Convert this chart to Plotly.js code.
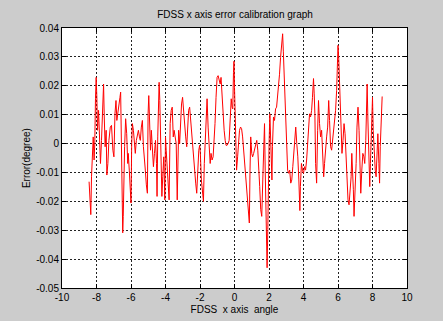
<!DOCTYPE html>
<html>
<head>
<meta charset="utf-8">
<script src="https://cdn.plot.ly/plotly-3.0.1.min.js"></script>
<style>
html,body{margin:0;padding:0;background:#cccccc;}
#chart{width:443px;height:321px;}
</style>
</head>
<body>
<div id="chart"></div>
<script>
const angle = [
-8.43,-8.37,-8.33,-8.29,-8.23,-8.19,-8.14,-8.10,-8.06,-8.02,-7.98,-7.94,-7.88,-7.83,-7.77,-7.71,-7.65,-7.59,-7.55,-7.50,-7.44,-7.40,-7.34,-7.28,-7.20,-7.13,-7.05,-6.99,-6.93,-6.87,-6.82,-6.76,-6.70,-6.64,-6.60,-6.56,-6.52,-6.48,-6.45,-6.41,-6.37,-6.31,-6.25,-6.19,-6.16,-6.10,-6.04,-6.00,-5.96,-5.92,-5.86,-5.81,-5.75,-5.69,-5.63,-5.57,-5.51,-5.46,-5.40,-5.34,-5.28,-5.22,-5.17,-5.11,-5.05,-5.01,-4.97,-4.93,-4.87,-4.82,-4.76,-4.70,-4.64,-4.58,-4.52,
-4.49,-4.45,-4.41,-4.37,-4.33,-4.29,-4.25,-4.21,-4.16,-4.10,-4.04,-4.00,-3.96,-3.90,-3.84,-3.79,-3.73,-3.67,-3.61,-3.55,-3.50,-3.44,-3.38,-3.32,-3.28,-3.24,-3.18,-3.13,-3.07,-3.01,-2.95,-2.89,-2.83,-2.77,-2.71,-2.66,-2.60,-2.54,-2.48,-2.42,-2.37,-2.31,-2.25,-2.19,-2.13,-2.07,-2.02,-1.98,-1.92,-1.86,-1.80,-1.75,-1.69,-1.63,-1.59,-1.53,-1.47,-1.41,-1.36,-1.30,-1.24,-1.18,-1.13,-1.07,-1.01,-0.95,-0.89,-0.83,-0.78,-0.72,-0.66,-0.60,-0.54,-0.49,-0.43,-0.37,-0.31,-0.25,-0.19,-0.14,-0.10,-0.06,-0.03,
0.00,0.04,0.08,0.12,0.18,0.23,0.29,0.35,0.41,0.47,0.53,0.59,0.64,0.70,0.76,0.82,0.86,0.90,0.94,1.00,1.05,1.11,1.17,1.23,1.29,1.35,1.40,1.46,1.52,1.58,1.64,1.70,1.74,1.78,1.81,1.85,1.89,1.93,1.97,2.01,2.05,2.09,2.13,2.17,2.20,2.26,2.32,2.38,2.44,2.50,2.56,2.61,2.67,2.73,2.79,2.83,2.87,2.91,2.95,2.99,3.03,3.08,3.14,3.20,3.26,3.32,3.38,3.43,3.49,3.55,3.61,3.67,3.73,3.79,3.82,3.88,3.94,4.00,4.06,4.12,4.18,4.23,4.29,
4.35,4.41,4.47,4.52,4.58,4.62,4.66,4.70,4.76,4.82,4.87,4.93,4.99,5.05,5.11,5.17,5.22,5.28,5.34,5.40,5.46,5.51,5.57,5.63,5.69,5.75,5.81,5.86,5.92,5.96,6.00,6.04,6.08,6.12,6.16,6.19,6.23,6.29,6.35,6.41,6.47,6.52,6.58,6.64,6.70,6.76,6.80,6.83,6.89,6.93,6.99,7.05,7.10,7.16,7.22,7.28,7.32,7.38,7.44,7.50,7.55,7.61,7.65,7.69,7.73,7.77,7.81,7.84,7.88,7.92,7.96,8.00,8.04,8.10,8.16,8.21,8.27,8.31,8.37,8.41,8.45,8.50,8.56
];
const errorDeg = [
-0.0132,-0.0206,-0.0246,-0.0115,-0.0023,0.0023,-0.0057,0.0000,0.0155,0.0229,0.0160,0.0046,0.0115,0.0011,-0.0069,0.0011,0.0115,0.0206,0.0092,-0.0011,0.0046,-0.0109,-0.0069,0.0011,0.0057,0.0063,-0.0023,-0.0046,0.0103,0.0149,0.0080,0.0115,0.0126,0.0160,0.0178,0.0011,-0.0195,-0.0309,-0.0252,-0.0080,-0.0011,0.0086,0.0034,-0.0069,-0.0034,-0.0092,-0.0160,-0.0206,0.0000,0.0069,0.0046,0.0011,-0.0034,0.0011,0.0034,0.0046,0.0023,0.0011,0.0057,0.0080,-0.0011,-0.0046,-0.0092,-0.0143,-0.0172,0.0103,0.0166,0.0092,-0.0023,0.0046,-0.0034,-0.0080,-0.0034,0.0011,-0.0069,
-0.0183,0.0023,0.0126,0.0212,0.0149,0.0023,-0.0092,-0.0183,-0.0115,-0.0046,-0.0195,0.0023,-0.0023,-0.0092,-0.0137,-0.0195,0.0069,0.0115,0.0126,0.0023,0.0046,0.0023,0.0000,-0.0195,-0.0011,0.0046,0.0000,0.0069,0.0137,0.0160,0.0103,0.0069,0.0023,-0.0011,0.0069,0.0115,0.0126,0.0080,0.0011,-0.0034,-0.0069,-0.0092,-0.0137,-0.0172,-0.0069,-0.0023,-0.0006,-0.0034,-0.0126,-0.0160,-0.0200,-0.0069,0.0046,0.0103,0.0155,0.0057,-0.0023,-0.0069,-0.0034,-0.0057,-0.0046,0.0000,0.0069,0.0160,0.0229,0.0235,0.0218,0.0206,0.0229,0.0160,0.0103,0.0046,0.0011,-0.0006,-0.0006,0.0000,0.0011,0.0092,0.0155,0.0126,0.0120,0.0246,0.0285,
0.0195,0.0103,0.0011,-0.0092,-0.0046,0.0011,0.0046,0.0057,0.0052,0.0023,-0.0023,-0.0057,-0.0092,-0.0137,-0.0195,-0.0240,-0.0275,-0.0092,0.0023,-0.0034,-0.0046,-0.0034,-0.0017,-0.0006,0.0011,-0.0023,-0.0069,-0.0149,-0.0229,-0.0252,-0.0126,-0.0011,0.0069,-0.0092,-0.0240,-0.0344,-0.0430,-0.0298,-0.0069,0.0011,0.0103,0.0000,-0.0092,-0.0126,-0.0011,0.0092,0.0080,0.0120,0.0126,0.0160,0.0218,0.0240,0.0298,0.0344,0.0380,0.0320,0.0252,0.0172,0.0103,0.0023,-0.0046,-0.0092,-0.0103,-0.0092,-0.0137,-0.0126,-0.0080,-0.0034,0.0023,0.0057,0.0000,-0.0046,-0.0126,-0.0232,-0.0149,-0.0069,-0.0092,-0.0103,-0.0080,-0.0092,-0.0057,-0.0011,0.0057,
0.0103,0.0092,0.0115,0.0160,0.0225,0.0172,0.0103,-0.0069,-0.0137,0.0046,0.0149,0.0069,0.0023,0.0046,-0.0046,-0.0115,-0.0069,-0.0011,0.0023,0.0057,0.0149,0.0080,-0.0011,-0.0023,0.0011,0.0034,0.0069,0.0115,0.0183,0.0263,0.0340,0.0298,0.0218,0.0183,0.0115,0.0046,-0.0034,0.0011,0.0069,0.0034,-0.0046,-0.0149,-0.0195,-0.0212,-0.0172,-0.0115,-0.0034,-0.0069,-0.0160,-0.0252,-0.0183,-0.0069,0.0057,0.0126,0.0046,-0.0092,-0.0172,-0.0092,-0.0034,-0.0046,-0.0069,0.0011,0.0149,0.0206,0.0092,-0.0011,-0.0103,-0.0149,-0.0069,0.0011,0.0103,0.0160,0.0046,-0.0046,-0.0092,-0.0115,-0.0046,0.0034,-0.0069,-0.0137,-0.0011,0.0115,0.0163
];
const xTicks = [-10,-8,-6,-4,-2,0,2,4,6,8,10];
const xTickText = ["-10","-8","-6","-4","-2","0","2","4","6","8","10"];
const yTicks = [-0.05,-0.04,-0.03,-0.02,-0.01,0,0.01,0.02,0.03,0.04];
const yTickText = ["-0.05","-0.04","-0.03","-0.02","-0.01","0","0.01","0.02","0.03","0.04"];

const font = {family: "Liberation Sans, Arial, sans-serif", size: 10, color: "#000"};
const axisCommon = {
  showline: true, linecolor: "#000", linewidth: 1, mirror: "ticks",
  ticks: "inside", ticklen: 4, tickwidth: 1, tickcolor: "#000",
  showgrid: true, gridcolor: "#222", gridwidth: 1, griddash: "2px,2px",
  zeroline: false, tickfont: font, fixedrange: true
};

Plotly.newPlot("chart", [{
  x: angle, y: errorDeg, type: "scatter", mode: "lines",
  line: {color: "#ff0000", width: 1}, hoverinfo: "skip"
}], {
  width: 443, height: 321,
  paper_bgcolor: "#cccccc", plot_bgcolor: "#ffffff",
  margin: {l: 62, r: 36, t: 28, b: 33},
  showlegend: false,
  font: font,
  title: {text: "FDSS x axis error calibration graph", font: font, x: 0.5306, xanchor: "center", y: 0.955, yanchor: "middle"},
  xaxis: Object.assign({}, axisCommon, {
    range: [-10, 10], tickmode: "array", tickvals: xTicks, ticktext: xTickText,
    title: {text: "FDSS  x axis  angle", font: font, standoff: 3}
  }),
  yaxis: Object.assign({}, axisCommon, {
    range: [-0.05, 0.04], tickmode: "array", tickvals: yTicks, ticktext: yTickText
  }),
  annotations: [{
    text: "Error(degree)", font: font, textangle: -90,
    xref: "paper", yref: "paper", x: -0.104, y: 0.5,
    xanchor: "center", yanchor: "middle", showarrow: false
  }]
}, {staticPlot: true});
</script>
</body>
</html>
